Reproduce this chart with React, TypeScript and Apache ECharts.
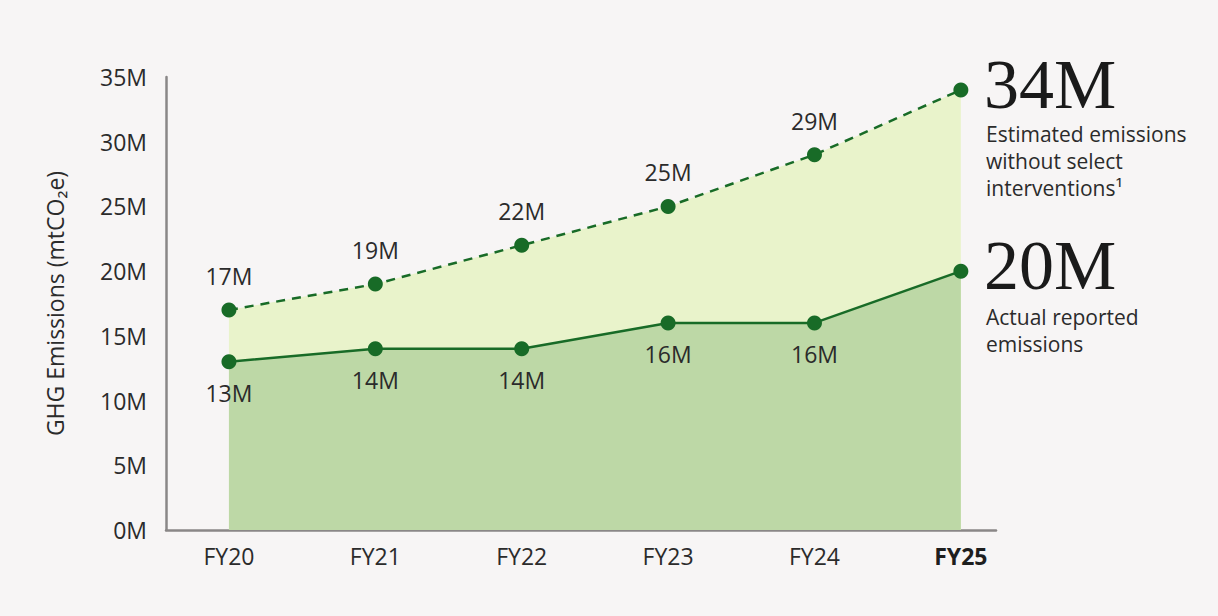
import React, { useEffect, useRef } from "react";
import * as echarts from "echarts";

const categories = ["FY20", "FY21", "FY22", "FY23", "FY24", "FY25"];
const estimated = [17, 19, 22, 25, 29, 34];
const actual = [13, 14, 14, 16, 16, 20];
const yTicks = [0, 5, 10, 15, 20, 25, 30, 35];

const estimatedNote = ["Estimated emissions", "without select", "interventions¹"];
const actualNote = ["Actual reported", "emissions"];

const DARK = "#186b27";
const TEXT = "#2b2b2b";
const SANS = "'Open Sans', 'Noto Sans', sans-serif";
const SERIF = "'Liberation Serif', 'DejaVu Serif', serif";

export default function App() {
  const ref = useRef<HTMLDivElement>(null);

  useEffect(() => {
    if (!ref.current) return;
    const chart = echarts.init(ref.current, undefined, { renderer: "svg" });
    const last = categories.length - 1;

    const labelFmt = (p: any) => (p.dataIndex === last ? "" : `${p.value[1]}M`);

    const noteLines = (lines: string[], startY: number) =>
      lines.map((t, i) => ({
        type: "text",
        x: 986,
        y: startY + i * 27,
        style: {
          text: t,
          fill: TEXT,
          font: `21px ${SANS}`,
          verticalAlign: "middle",
          align: "left",
        },
      }));

    const bigValue = (value: number, y: number) => ({
      type: "text",
      x: 984,
      y,
      style: {
        text: `${value}M`,
        fill: "#1a1a1a",
        font: `70px ${SERIF}`,
        verticalAlign: "middle",
        align: "left",
      },
    });

    chart.setOption({
      animation: false,
      backgroundColor: "#f7f5f5",
      grid: { left: 166, right: 222, top: 77, bottom: 86 },
      xAxis: {
        type: "value",
        min: -0.43,
        max: 5.24,
        splitLine: { show: false },
        axisTick: { show: false },
        axisLine: { show: true, onZero: false, lineStyle: { color: "#8a8787", width: 2.5 } },
        axisLabel: {
          customValues: categories.map((_, i) => i),
          margin: 14,
          fontFamily: SANS,
          fontSize: 23,
          color: TEXT,
          formatter: (v: number) => {
            const c = categories[Math.round(v)] ?? "";
            return Math.round(v) === last ? `{b|${c}}` : c;
          },
          rich: {
            b: { fontFamily: SANS, fontSize: 23, fontWeight: "bold", color: "#1e1e1e" },
          },
        },
      },
      yAxis: {
        type: "value",
        min: 0,
        max: 35,
        interval: 5,
        name: "GHG Emissions (mtCO₂e)",
        nameLocation: "middle",
        nameGap: 100,
        nameTextStyle: { fontFamily: SANS, fontSize: 23, color: TEXT },
        splitLine: { show: false },
        axisTick: { show: false },
        axisLine: { show: true, onZero: false, lineStyle: { color: "#8a8787", width: 2.5 } },
        axisLabel: {
          customValues: yTicks,
          margin: 19,
          fontFamily: SANS,
          fontSize: 23,
          color: TEXT,
          formatter: (v: number) => `${v}M`,
        },
      },
      series: [
        {
          name: "Estimated",
          type: "line",
          data: estimated.map((v, i) => [i, v]),
          symbol: "circle",
          symbolSize: 15,
          lineStyle: { color: DARK, width: 2.5, type: [9, 7] },
          itemStyle: { color: DARK },
          areaStyle: { color: "#e9f3cb", opacity: 1 },
          label: {
            show: true,
            position: "top",
            distance: 15,
            fontFamily: SANS,
            fontSize: 23,
            color: TEXT,
            formatter: labelFmt,
          },
          z: 2,
        },
        {
          name: "Actual",
          type: "line",
          data: actual.map((v, i) => [i, v]),
          symbol: "circle",
          symbolSize: 15,
          lineStyle: { color: DARK, width: 2.5 },
          itemStyle: { color: DARK },
          areaStyle: { color: "#bdd8a6", opacity: 1 },
          label: {
            show: true,
            position: "bottom",
            distance: 12,
            fontFamily: SANS,
            fontSize: 23,
            color: TEXT,
            formatter: labelFmt,
          },
          z: 3,
        },
      ],
      graphic: [
        bigValue(estimated[last], 84),
        ...noteLines(estimatedNote, 134),
        bigValue(actual[last], 265),
        ...noteLines(actualNote, 317),
      ],
    });

    return () => chart.dispose();
  }, []);

  return (
    <div
      ref={ref}
      style={{ position: "fixed", left: 0, top: 0, width: 1218, height: 616 }}
    />
  );
}
